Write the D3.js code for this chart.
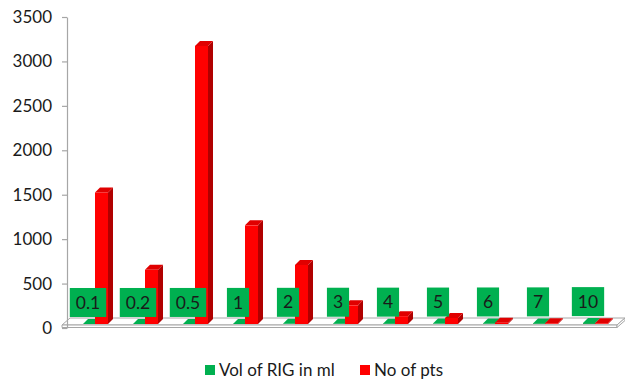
<!DOCTYPE html>
<html>
<head>
<meta charset="utf-8">
<script src="https://cdn.jsdelivr.net/npm/d3@7/dist/d3.min.js"></script>
<style>
  html, body { margin: 0; padding: 0; background: #fff; }
  svg { display: block; font-family: Lato, "Open Sans", sans-serif; }
</style>
</head>
<body>
<svg id="chart" width="625" height="382"></svg>
<script>
// Volume of RIG (ml) per category and number of patients at each volume
const categories = ["0.1", "0.2", "0.5", "1", "2", "3", "4", "5", "6", "7", "10"];
const volRIG = [0.1, 0.2, 0.5, 1, 2, 3, 4, 5, 6, 7, 10];
const noOfPts = [1480, 610, 3130, 1110, 665, 210, 88, 68, 15, 8, 8];
const yTicks = [0, 500, 1000, 1500, 2000, 2500, 3000, 3500];
const seriesNames = ["Vol of RIG in ml", "No of pts"];

const svg = d3.select("#chart");

const x = d3.scaleBand().domain(categories).range([63, 613]);
const y = d3.scaleLinear().domain([0, 3500]).range([328, 17]);

// oblique depth for the 3D look
const lift = 4;          // bars stand this far behind the front of the floor
const dep = { dx: 5, dy: -5 };

// floor
const floor = svg.append("g").attr("fill", "#fff").attr("stroke", "#a6a6a6").attr("stroke-width", 1);
floor.append("path").attr("d", "M62,325 L617,325 L625,318 L70,318 Z");
floor.append("path").attr("d", "M62,325 L617,325 L617,327.5 L62,327.5 Z");
floor.append("path").attr("d", "M617,325 L625,318 L625,320.5 L617,327.5 Z");

// y axis
const yAxis = d3.axisLeft(y).tickValues(yTicks).tickFormat(d3.format("d"))
  .tickSize(5).tickSizeOuter(0).tickPadding(10);
const ag = svg.append("g").attr("transform", "translate(67,0)").call(yAxis);
ag.select(".domain").attr("stroke", "#a6a6a6").attr("stroke-width", 1.2);
ag.selectAll(".tick line").attr("stroke", "#a6a6a6").attr("stroke-width", 1.2);
ag.selectAll(".tick text").attr("fill", "#1a1a1a").style("font-size", "17px").style("font-family", "Lato, 'Open Sans', sans-serif");

// a column drawn as front face, side face and top face
function bar3d(g, x0, w, v, colors) {
  const base = y(0) - lift;
  const top = y(v) - lift;
  const { dx, dy } = dep;
  g.append("path").attr("fill", colors.side)
    .attr("d", `M${x0 + w},${top} L${x0 + w + dx},${top + dy} L${x0 + w + dx},${base + dy} L${x0 + w},${base} Z`);
  g.append("path").attr("fill", colors.top)
    .attr("d", `M${x0},${top} L${x0 + dx},${top + dy} L${x0 + w + dx},${top + dy} L${x0 + w},${top} Z`);
  g.append("rect").attr("fill", colors.front)
    .attr("x", x0).attr("y", top).attr("width", w).attr("height", Math.max(0, base - top));
}

const green = { front: "#00a040", side: "#007a30", top: "#00b050" };
const red = { front: "#ff0000", side: "#b00000", top: "#e00000" };

const bars = svg.append("g");
categories.forEach((c, i) => {
  const b = x(c);
  bar3d(bars, b + 20, 12, volRIG[i], green);
  bar3d(bars, b + 32, 13, noOfPts[i], red);
});

// data labels for the volume series
const labels = svg.append("g").style("font-size", "17.5px");
categories.forEach((c, i) => {
  const cx = x(c) + 25;
  const bottom = y(volRIG[i]) - lift - 7;
  const g = labels.append("g");
  const t = g.append("text").attr("x", cx).attr("y", bottom - 14.5)
    .attr("text-anchor", "middle").attr("dy", "0.35em").attr("fill", "#1a1a1a")
    .text(categories[i]);
  const w = t.node().getComputedTextLength() + 12;
  g.insert("rect", "text").attr("x", cx - w / 2).attr("y", bottom - 29)
    .attr("width", w).attr("height", 29).attr("fill", "#00b050");
});

// legend
const legend = svg.append("g").style("font-size", "17px");
const legendItems = [
  { name: seriesNames[0], color: "#00b050", x: 205 },
  { name: seriesNames[1], color: "#ff0000", x: 360 }
];
legendItems.forEach(d => {
  legend.append("rect").attr("x", d.x).attr("y", 365).attr("width", 10).attr("height", 10).attr("fill", d.color);
  legend.append("text").attr("x", d.x + 14).attr("y", 370).attr("dy", "0.35em").attr("fill", "#1a1a1a").text(d.name);
});
</script>
</body>
</html>
